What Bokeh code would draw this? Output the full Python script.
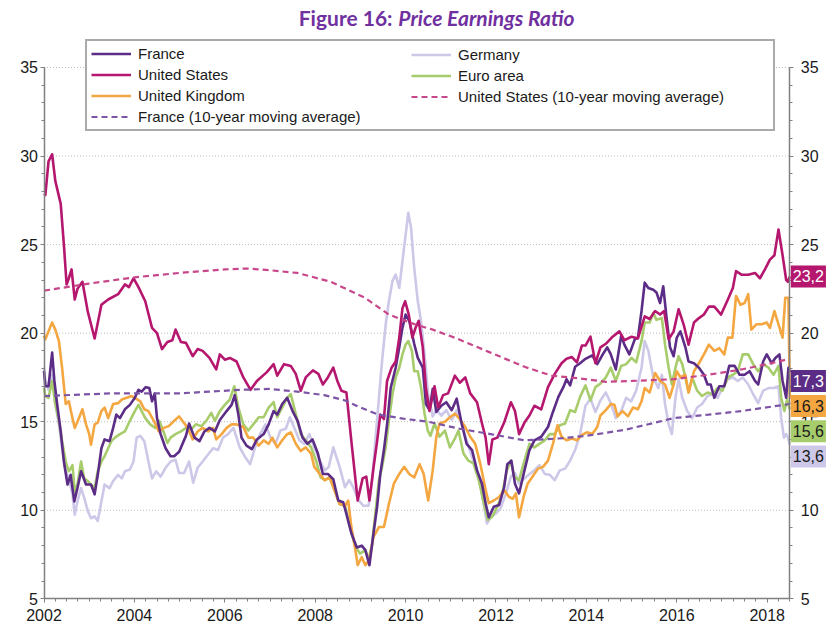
from bokeh.plotting import figure
from bokeh.models import Range1d, LinearAxis, FixedTicker, Legend, LegendItem, Label
from bokeh.embed import file_html
from bokeh.resources import INLINE

# ---------------- data (year, P/E) ----------------
france = [(2002.00, 17.85), (2002.03, 17.0), (2002.10, 17.0), (2002.18, 18.9), (2002.23, 17.3), (2002.29, 16.0),
          (2002.37, 14.45), (2002.44, 12.75), (2002.52, 11.45), (2002.59, 12.0), (2002.67, 10.5), (2002.74, 11.25),
          (2002.82, 12.2), (2002.93, 11.45), (2003.04, 11.45), (2003.12, 10.9), (2003.19, 12.0), (2003.27, 13.5),
          (2003.34, 14.0), (2003.45, 13.9), (2003.53, 14.65), (2003.60, 15.4), (2003.68, 15.2), (2003.79, 15.7),
          (2003.90, 15.95), (2004.01, 16.35), (2004.09, 16.8), (2004.16, 16.7), (2004.25, 16.95), (2004.33, 16.9),
          (2004.39, 16.15), (2004.45, 16.6), (2004.50, 15.2), (2004.58, 14.3), (2004.69, 13.5), (2004.80, 13.05),
          (2004.88, 13.05), (2004.99, 13.3), (2005.14, 14.2), (2005.21, 14.9), (2005.33, 14.1), (2005.44, 13.9),
          (2005.55, 14.45), (2005.66, 14.65), (2005.78, 14.45), (2005.89, 15.1), (2006.04, 15.6), (2006.15, 15.95),
          (2006.22, 16.5), (2006.30, 15.4), (2006.37, 14.1), (2006.48, 13.65), (2006.60, 13.45), (2006.71, 14.0),
          (2006.86, 14.3), (2006.97, 14.85), (2007.08, 15.6), (2007.16, 15.4), (2007.27, 16.0), (2007.38, 16.35),
          (2007.50, 15.6), (2007.61, 15.05), (2007.72, 14.1), (2007.83, 13.75), (2007.94, 14.0), (2008.06, 13.2),
          (2008.17, 12.05), (2008.28, 12.05), (2008.40, 11.75), (2008.51, 10.55), (2008.62, 10.45), (2008.69, 9.8),
          (2008.80, 8.7), (2008.92, 7.9), (2009.03, 8.0), (2009.11, 7.75), (2009.20, 6.9), (2009.29, 8.7),
          (2009.37, 10.2), (2009.44, 12.05), (2009.52, 13.4), (2009.59, 14.85), (2009.67, 16.9), (2009.78, 18.05),
          (2009.86, 19.2), (2009.93, 20.3), (2010.00, 21.05), (2010.08, 20.7), (2010.19, 19.4), (2010.27, 18.6),
          (2010.38, 18.05), (2010.45, 16.0), (2010.53, 15.65), (2010.60, 16.85), (2010.68, 15.55), (2010.79, 15.9),
          (2010.90, 16.1), (2011.02, 15.65), (2011.13, 16.3), (2011.24, 14.9), (2011.35, 13.75), (2011.47, 13.4),
          (2011.58, 12.25), (2011.69, 11.5), (2011.77, 10.4), (2011.84, 9.6), (2011.95, 10.2), (2012.07, 10.3),
          (2012.18, 11.3), (2012.25, 12.6), (2012.34, 12.8), (2012.42, 11.5), (2012.51, 10.95), (2012.63, 12.25),
          (2012.74, 13.4), (2012.85, 13.95), (2013.00, 14.15), (2013.15, 14.7), (2013.26, 15.55), (2013.38, 16.4),
          (2013.49, 16.95), (2013.56, 17.4), (2013.64, 17.05), (2013.75, 18.1), (2013.86, 18.3), (2013.98, 18.55),
          (2014.13, 18.75), (2014.24, 18.25), (2014.35, 18.75), (2014.46, 19.2), (2014.54, 18.8), (2014.65, 17.95),
          (2014.77, 19.85), (2014.84, 19.35), (2014.95, 18.8), (2015.07, 19.65), (2015.14, 19.75), (2015.22, 21.25),
          (2015.29, 22.85), (2015.37, 22.55), (2015.48, 22.45), (2015.55, 22.3), (2015.63, 21.7), (2015.70, 22.65),
          (2015.78, 20.7), (2015.85, 19.2), (2015.93, 18.7), (2016.00, 19.75), (2016.08, 20.1), (2016.19, 19.2),
          (2016.26, 18.4), (2016.38, 18.3), (2016.49, 18.05), (2016.60, 17.65), (2016.68, 17.1), (2016.75, 17.1),
          (2016.83, 16.35), (2016.94, 17.0), (2017.05, 17.0), (2017.16, 18.15), (2017.28, 18.15), (2017.39, 17.65),
          (2017.50, 17.65), (2017.61, 17.85), (2017.73, 17.3), (2017.80, 17.1), (2017.91, 18.4), (2017.99, 18.8),
          (2018.10, 18.3), (2018.18, 18.6), (2018.27, 18.8), (2018.34, 17.3), (2018.42, 16.35), (2018.47, 18.05),
          (2018.50, 17.8)]

united_states = [(2002.00, 27.9), (2002.03, 27.8), (2002.10, 29.7), (2002.18, 30.1), (2002.25, 28.6), (2002.37, 27.3),
                 (2002.44, 25.0), (2002.50, 22.75), (2002.55, 23.1), (2002.61, 23.6), (2002.68, 21.9), (2002.74, 22.5),
                 (2002.85, 22.9), (2002.97, 21.2), (2003.12, 19.7), (2003.27, 21.6), (2003.42, 21.9), (2003.64, 22.2),
                 (2003.79, 22.75), (2003.88, 22.6), (2003.98, 23.1), (2004.09, 22.6), (2004.24, 21.8), (2004.39, 20.3),
                 (2004.50, 20.0), (2004.61, 19.1), (2004.73, 19.5), (2004.84, 19.6), (2004.91, 20.2), (2005.03, 19.5),
                 (2005.14, 19.45), (2005.29, 18.7), (2005.40, 19.1), (2005.51, 19.0), (2005.66, 18.6), (2005.81, 17.95),
                 (2005.89, 18.8), (2006.00, 18.5), (2006.11, 18.6), (2006.26, 18.4), (2006.41, 17.5), (2006.57, 16.8),
                 (2006.71, 17.3), (2006.93, 17.8), (2007.08, 18.25), (2007.16, 17.6), (2007.31, 18.25), (2007.46, 18.15),
                 (2007.57, 17.7), (2007.68, 16.75), (2007.79, 17.5), (2007.95, 17.9), (2008.07, 17.7), (2008.17, 17.1),
                 (2008.28, 17.5), (2008.40, 18.05), (2008.49, 17.3), (2008.58, 16.75), (2008.69, 16.65), (2008.80, 13.9),
                 (2008.94, 10.55), (2009.05, 11.8), (2009.13, 11.9), (2009.20, 10.55), (2009.29, 12.4), (2009.37, 13.9),
                 (2009.44, 15.4), (2009.52, 15.15), (2009.59, 17.3), (2009.69, 18.05), (2009.78, 18.4), (2009.86, 19.75),
                 (2009.93, 21.4), (2009.99, 21.8), (2010.07, 21.05), (2010.15, 19.75), (2010.22, 20.3), (2010.29, 20.7),
                 (2010.38, 19.2), (2010.45, 16.9), (2010.53, 15.6), (2010.64, 17.0), (2010.72, 15.8), (2010.83, 16.5),
                 (2010.94, 16.6), (2011.09, 17.6), (2011.20, 17.2), (2011.32, 17.5), (2011.43, 16.6), (2011.58, 16.1),
                 (2011.69, 14.9), (2011.77, 14.1), (2011.84, 12.6), (2011.92, 14.0), (2012.03, 14.1), (2012.18, 14.95),
                 (2012.33, 16.1), (2012.42, 15.6), (2012.51, 14.3), (2012.63, 14.95), (2012.74, 15.35), (2012.85, 15.9),
                 (2013.00, 15.7), (2013.15, 16.95), (2013.30, 17.7), (2013.45, 18.3), (2013.56, 18.55), (2013.68, 18.65),
                 (2013.79, 18.35), (2013.90, 19.3), (2013.98, 19.3), (2014.09, 19.8), (2014.20, 18.3), (2014.31, 19.2),
                 (2014.43, 19.4), (2014.58, 19.8), (2014.73, 20.1), (2014.84, 19.6), (2015.00, 19.8), (2015.14, 19.7),
                 (2015.29, 20.95), (2015.40, 20.8), (2015.52, 21.25), (2015.63, 21.05), (2015.72, 21.25), (2015.82, 19.65),
                 (2015.93, 20.1), (2016.04, 21.35), (2016.15, 20.5), (2016.26, 19.35), (2016.38, 20.6), (2016.49, 20.85),
                 (2016.60, 21.05), (2016.71, 21.5), (2016.83, 21.5), (2016.98, 21.05), (2017.13, 21.9), (2017.24, 22.55),
                 (2017.31, 23.5), (2017.43, 23.3), (2017.58, 23.3), (2017.73, 23.4), (2017.84, 23.1), (2017.95, 23.6),
                 (2018.06, 24.15), (2018.16, 24.4), (2018.25, 25.85), (2018.34, 24.4), (2018.42, 23.0), (2018.46, 22.9),
                 (2018.50, 23.2)]

united_kingdom = [(2002.00, 19.85), (2002.03, 19.65), (2002.10, 20.1), (2002.18, 20.6), (2002.25, 20.2), (2002.33, 19.55),
                  (2002.40, 18.05), (2002.48, 16.0), (2002.55, 16.15), (2002.63, 15.2), (2002.68, 14.65), (2002.74, 15.0),
                  (2002.85, 15.7), (2002.93, 14.85), (2003.00, 14.3), (2003.04, 13.7), (2003.12, 14.85), (2003.19, 14.95),
                  (2003.27, 15.6), (2003.34, 15.8), (2003.42, 15.2), (2003.53, 16.0), (2003.64, 16.05), (2003.72, 16.25),
                  (2003.83, 16.35), (2003.94, 16.45), (2004.01, 16.35), (2004.13, 16.15), (2004.22, 15.7), (2004.31, 15.6),
                  (2004.43, 15.05), (2004.54, 14.45), (2004.65, 14.65), (2004.76, 14.75), (2004.88, 15.05), (2004.99, 15.3),
                  (2005.06, 15.05), (2005.18, 14.65), (2005.29, 14.0), (2005.40, 14.45), (2005.51, 14.65), (2005.63, 14.45),
                  (2005.74, 14.65), (2005.81, 14.0), (2005.93, 14.3), (2006.04, 14.65), (2006.15, 14.85), (2006.26, 14.85),
                  (2006.41, 14.7), (2006.52, 14.1), (2006.63, 14.1), (2006.75, 13.65), (2006.86, 13.95), (2006.97, 13.75),
                  (2007.05, 14.1), (2007.16, 13.55), (2007.27, 13.95), (2007.38, 14.3), (2007.46, 14.4), (2007.57, 13.75),
                  (2007.68, 13.35), (2007.79, 13.55), (2007.91, 13.2), (2007.98, 12.45), (2008.10, 12.05), (2008.21, 11.7),
                  (2008.32, 11.85), (2008.43, 11.1), (2008.54, 10.35), (2008.66, 10.25), (2008.73, 10.55), (2008.80, 9.05),
                  (2008.88, 7.9), (2008.94, 6.9), (2009.03, 7.35), (2009.11, 6.9), (2009.20, 7.2), (2009.29, 8.5),
                  (2009.41, 9.05), (2009.52, 9.05), (2009.63, 10.35), (2009.74, 11.5), (2009.86, 12.05), (2009.97, 12.45),
                  (2010.08, 12.05), (2010.19, 11.85), (2010.31, 12.6), (2010.40, 12.05), (2010.50, 10.55), (2010.60, 12.25),
                  (2010.68, 14.15), (2010.75, 14.9), (2010.87, 15.0), (2010.98, 15.25), (2011.09, 15.45), (2011.20, 15.15),
                  (2011.32, 14.7), (2011.43, 14.15), (2011.54, 13.75), (2011.65, 12.65), (2011.77, 11.15), (2011.84, 10.4),
                  (2011.95, 10.55), (2012.07, 10.75), (2012.18, 11.15), (2012.29, 10.75), (2012.37, 10.65), (2012.44, 10.95),
                  (2012.51, 9.6), (2012.61, 10.75), (2012.70, 11.5), (2012.81, 11.9), (2012.93, 12.35), (2013.04, 12.45),
                  (2013.15, 12.8), (2013.26, 13.75), (2013.36, 14.8), (2013.45, 14.15), (2013.56, 13.95), (2013.68, 14.05),
                  (2013.79, 13.95), (2013.90, 14.25), (2014.01, 14.4), (2014.13, 14.3), (2014.24, 14.7), (2014.31, 15.35),
                  (2014.43, 15.65), (2014.54, 16.0), (2014.62, 15.95), (2014.69, 15.3), (2014.80, 15.6), (2014.92, 15.3),
                  (2015.03, 15.8), (2015.14, 15.7), (2015.22, 16.15), (2015.29, 16.9), (2015.40, 16.65), (2015.52, 17.75),
                  (2015.63, 17.3), (2015.74, 17.1), (2015.84, 16.35), (2015.93, 17.1), (2016.00, 17.85), (2016.08, 17.5),
                  (2016.19, 17.65), (2016.26, 16.65), (2016.38, 17.85), (2016.49, 18.3), (2016.60, 18.8), (2016.71, 19.35),
                  (2016.83, 19.0), (2016.94, 19.15), (2017.05, 18.8), (2017.13, 19.75), (2017.23, 19.75), (2017.31, 22.1),
                  (2017.41, 21.6), (2017.50, 21.7), (2017.58, 22.2), (2017.65, 20.2), (2017.76, 20.5), (2017.88, 20.5),
                  (2017.99, 20.6), (2018.06, 20.3), (2018.16, 21.25), (2018.25, 20.5), (2018.34, 19.75), (2018.40, 22.0),
                  (2018.47, 22.0), (2018.50, 16.3)]

germany = [(2002.00, 18.05), (2002.03, 17.3), (2002.10, 16.8), (2002.18, 17.65), (2002.25, 16.0), (2002.33, 14.85),
           (2002.40, 13.5), (2002.48, 12.2), (2002.55, 11.8), (2002.63, 10.9), (2002.68, 9.75), (2002.74, 10.5),
           (2002.82, 11.25), (2002.89, 10.7), (2002.97, 9.95), (2003.04, 9.55), (2003.12, 9.65), (2003.19, 9.4),
           (2003.27, 10.5), (2003.34, 11.45), (2003.45, 11.25), (2003.53, 11.65), (2003.64, 12.0), (2003.72, 11.8),
           (2003.79, 12.2), (2003.90, 12.3), (2003.98, 12.75), (2004.05, 14.1), (2004.13, 14.2), (2004.22, 13.9),
           (2004.31, 12.75), (2004.39, 11.8), (2004.48, 12.2), (2004.58, 11.9), (2004.69, 12.4), (2004.80, 12.75),
           (2004.91, 12.85), (2004.99, 12.1), (2005.10, 12.1), (2005.21, 12.75), (2005.30, 11.55), (2005.40, 12.4),
           (2005.51, 12.75), (2005.63, 13.15), (2005.74, 13.5), (2005.85, 13.4), (2005.96, 14.1), (2006.07, 14.3),
           (2006.19, 14.65), (2006.33, 13.55), (2006.45, 13.0), (2006.56, 12.6), (2006.67, 13.55), (2006.78, 14.3),
           (2006.90, 14.85), (2007.01, 14.1), (2007.12, 13.75), (2007.23, 14.5), (2007.35, 14.6), (2007.44, 15.25),
           (2007.53, 14.7), (2007.65, 13.95), (2007.76, 13.75), (2007.87, 14.3), (2007.98, 13.55), (2008.10, 12.8),
           (2008.21, 12.25), (2008.30, 12.45), (2008.40, 13.55), (2008.47, 13.0), (2008.54, 12.45), (2008.66, 11.3),
           (2008.75, 11.7), (2008.84, 11.3), (2008.96, 10.55), (2009.07, 10.25), (2009.18, 10.25), (2009.26, 11.7),
           (2009.33, 13.95), (2009.41, 16.35), (2009.48, 18.45), (2009.56, 20.5), (2009.63, 21.8), (2009.71, 22.95),
           (2009.78, 23.3), (2009.86, 22.55), (2009.93, 24.05), (2010.00, 25.55), (2010.06, 26.8), (2010.12, 25.95),
           (2010.19, 23.7), (2010.27, 21.8), (2010.34, 20.7), (2010.42, 18.8), (2010.50, 16.5), (2010.60, 15.3),
           (2010.68, 15.65), (2010.79, 15.35), (2010.90, 15.65), (2011.02, 15.1), (2011.13, 15.65), (2011.24, 14.9),
           (2011.35, 13.95), (2011.47, 13.0), (2011.58, 12.25), (2011.69, 10.95), (2011.80, 9.25), (2011.88, 9.6),
           (2011.99, 9.8), (2012.10, 10.1), (2012.22, 10.95), (2012.33, 11.9), (2012.42, 12.1), (2012.51, 11.5),
           (2012.63, 11.8), (2012.74, 12.05), (2012.85, 12.25), (2012.96, 12.55), (2013.08, 12.05), (2013.19, 12.0),
           (2013.30, 11.7), (2013.41, 12.25), (2013.53, 12.35), (2013.64, 12.8), (2013.75, 13.4), (2013.86, 14.3),
           (2013.98, 15.9), (2014.09, 16.3), (2014.20, 15.55), (2014.31, 16.2), (2014.43, 16.65), (2014.54, 16.05),
           (2014.65, 15.2), (2014.77, 15.6), (2014.88, 16.35), (2014.99, 16.15), (2015.10, 16.75), (2015.22, 18.05),
           (2015.29, 19.55), (2015.37, 19.0), (2015.48, 17.5), (2015.59, 16.9), (2015.67, 17.65), (2015.74, 16.0),
           (2015.82, 14.85), (2015.89, 14.3), (2015.97, 16.35), (2016.04, 17.4), (2016.12, 16.35), (2016.23, 15.6),
           (2016.34, 15.2), (2016.45, 15.8), (2016.56, 16.0), (2016.68, 16.45), (2016.79, 16.55), (2016.90, 16.35),
           (2017.01, 16.9), (2017.13, 17.4), (2017.24, 17.5), (2017.35, 17.3), (2017.46, 17.5), (2017.58, 17.1),
           (2017.69, 16.55), (2017.80, 16.05), (2017.91, 16.75), (2018.03, 16.9), (2018.14, 16.9), (2018.25, 17.0),
           (2018.31, 15.2), (2018.37, 14.1), (2018.42, 14.3), (2018.46, 14.1), (2018.50, 13.7)]

euro_area = [(2002.00, 16.9), (2002.03, 16.45), (2002.10, 16.35), (2002.18, 17.3), (2002.25, 16.0), (2002.33, 15.05),
             (2002.40, 13.9), (2002.48, 12.75), (2002.55, 12.2), (2002.63, 12.55), (2002.68, 11.05), (2002.74, 11.45),
             (2002.82, 12.75), (2002.89, 11.8), (2002.97, 11.65), (2003.04, 11.45), (2003.12, 11.25), (2003.19, 12.2),
             (2003.27, 12.75), (2003.34, 13.05), (2003.42, 13.5), (2003.49, 13.9), (2003.57, 14.1), (2003.68, 14.3),
             (2003.79, 14.45), (2003.90, 15.05), (2004.01, 15.6), (2004.09, 15.95), (2004.16, 15.6), (2004.24, 15.2),
             (2004.35, 14.85), (2004.46, 14.65), (2004.55, 15.05), (2004.65, 14.4), (2004.73, 13.8), (2004.80, 14.1),
             (2004.91, 14.3), (2005.03, 14.45), (2005.14, 14.65), (2005.25, 14.55), (2005.36, 14.85), (2005.48, 14.75),
             (2005.59, 15.05), (2005.70, 15.5), (2005.78, 15.05), (2005.89, 15.6), (2006.00, 15.95), (2006.11, 16.25),
             (2006.21, 17.0), (2006.30, 15.8), (2006.41, 14.85), (2006.52, 14.5), (2006.63, 14.85), (2006.75, 15.25),
             (2006.86, 15.25), (2006.97, 15.8), (2007.08, 16.1), (2007.16, 15.25), (2007.27, 15.8), (2007.38, 16.35),
             (2007.46, 16.55), (2007.57, 15.45), (2007.68, 14.3), (2007.79, 13.95), (2007.91, 13.55), (2008.02, 12.8),
             (2008.12, 11.85), (2008.21, 11.7), (2008.32, 11.85), (2008.43, 11.1), (2008.54, 10.35), (2008.66, 10.25),
             (2008.77, 9.05), (2008.88, 8.0), (2008.99, 7.55), (2009.11, 7.75), (2009.18, 7.2), (2009.26, 8.1),
             (2009.33, 9.8), (2009.41, 11.7), (2009.48, 12.45), (2009.56, 13.55), (2009.63, 15.05), (2009.71, 16.55),
             (2009.78, 17.5), (2009.86, 18.05), (2009.93, 18.8), (2010.00, 19.35), (2010.06, 19.55), (2010.14, 19.0),
             (2010.19, 17.85), (2010.27, 17.85), (2010.34, 16.95), (2010.42, 15.45), (2010.49, 14.5), (2010.55, 14.2),
             (2010.64, 14.9), (2010.75, 14.15), (2010.87, 14.5), (2010.98, 13.55), (2011.09, 14.05), (2011.17, 14.5),
             (2011.28, 13.2), (2011.39, 12.8), (2011.50, 12.65), (2011.62, 11.7), (2011.73, 10.4), (2011.82, 9.45),
             (2011.92, 9.65), (2012.03, 10.2), (2012.14, 10.95), (2012.24, 12.25), (2012.33, 12.8), (2012.40, 11.9),
             (2012.51, 11.7), (2012.63, 12.8), (2012.74, 13.75), (2012.85, 13.55), (2012.96, 13.75), (2013.08, 13.95),
             (2013.19, 14.3), (2013.30, 14.3), (2013.41, 14.8), (2013.53, 14.9), (2013.64, 15.65), (2013.75, 15.55),
             (2013.86, 16.4), (2013.98, 17.05), (2014.09, 16.2), (2014.20, 16.95), (2014.31, 17.15), (2014.43, 17.5),
             (2014.54, 18.05), (2014.65, 17.3), (2014.77, 18.15), (2014.88, 18.25), (2015.00, 18.6), (2015.10, 18.35),
             (2015.22, 19.55), (2015.29, 20.6), (2015.40, 20.6), (2015.48, 21.15), (2015.55, 20.75), (2015.67, 20.85),
             (2015.74, 19.35), (2015.82, 18.05), (2015.89, 17.1), (2015.97, 18.05), (2016.04, 18.7), (2016.12, 18.25),
             (2016.19, 17.5), (2016.26, 16.65), (2016.34, 17.5), (2016.45, 16.75), (2016.56, 16.45), (2016.68, 16.65),
             (2016.79, 16.55), (2016.90, 16.9), (2017.01, 16.75), (2017.13, 17.5), (2017.24, 17.65), (2017.35, 17.85),
             (2017.46, 18.8), (2017.58, 18.8), (2017.69, 18.25), (2017.80, 17.85), (2017.91, 18.25), (2018.03, 18.05),
             (2018.14, 17.65), (2018.25, 18.15), (2018.31, 16.35), (2018.38, 15.6), (2018.44, 16.25), (2018.50, 15.7)]

us_ma = [(2002.0, 22.4), (2003.0, 22.8), (2004.0, 23.15), (2005.0, 23.4), (2006.0, 23.6), (2006.5, 23.65),
         (2007.0, 23.55), (2007.6, 23.4), (2008.35, 22.9), (2009.1, 22.0), (2009.63, 21.05), (2010.2, 20.5),
         (2010.6, 20.2), (2011.13, 19.7), (2011.88, 18.9), (2012.63, 18.1), (2013.23, 17.6), (2013.83, 17.45),
         (2014.43, 17.25), (2015.0, 17.3), (2015.93, 17.4), (2016.7, 17.65), (2017.43, 17.95), (2018.0, 18.25),
         (2018.5, 18.55)]

france_ma = [(2002.0, 16.45), (2003.5, 16.6), (2005.0, 16.6), (2006.35, 16.8), (2007.0, 16.85), (2007.6, 16.7),
             (2008.2, 16.5), (2008.66, 16.2), (2009.0, 15.8), (2009.4, 15.4), (2010.0, 15.15), (2010.5, 15.0),
             (2011.2, 14.6), (2011.88, 14.3), (2012.63, 13.95), (2013.38, 14.05), (2014.0, 14.2), (2014.87, 14.55),
             (2015.93, 15.2), (2016.7, 15.4), (2017.43, 15.6), (2018.5, 16.0)]

end_values = [23.2, 17.3, 16.3, 15.6, 13.6]          # latest values, labelled at the right edge
end_names = ["United States", "France", "United Kingdom", "Euro area", "Germany"]

x_major = [2002, 2004, 2006, 2008, 2010, 2012, 2014, 2016, 2018]
y_major = [5, 10, 15, 20, 25, 30, 35]
x_bounds = (2002, 2018.5)
y_bounds = (5, 35)

# ---------------- styles ----------------
COL = {"France": "#5c2d86", "United States": "#b5176f", "United Kingdom": "#f4a741",
       "Germany": "#cdc7e8", "Euro area": "#a7cc6c",
       "US MA": "#c8468a", "FR MA": "#7d55a6"}
END_TEXT = {"United States": "white", "France": "white", "United Kingdom": "#1a1a1a",
            "Euro area": "#1a1a1a", "Germany": "#1a1a1a"}
FONT = "'Liberation Sans Narrow', 'Arial Narrow', 'Liberation Sans', sans-serif"

# the frame covers the whole canvas; the axes are pinned at the chart bounds
p = figure(width=832, height=628, x_range=Range1d(2001.0376, 2019.4447), y_range=Range1d(3.323, 38.783),
           x_axis_location=None, y_axis_location=None,
           output_backend="svg", toolbar_location=None, min_border=0,
           min_border_left=0, min_border_right=0, min_border_top=0, min_border_bottom=0,
           outline_line_color=None, background_fill_color="white", border_fill_color="white")
p.xgrid.visible = False
p.ygrid.visible = False

# dotted horizontal grid between the two y axes
grid_levels = [v for v in y_major if v != y_bounds[0]]
p.segment(x0=[x_bounds[0]] * len(grid_levels), x1=[x_bounds[1]] * len(grid_levels),
          y0=grid_levels, y1=grid_levels, line_color="#bdbdbd", line_dash="1 2", line_width=1, level="underlay")

def xs(s): return [a for a, b in s]
def ys(s): return [b for a, b in s]

r_de = p.line(xs(germany), ys(germany), line_color=COL["Germany"], line_width=2.6, line_join="round")
r_ea = p.line(xs(euro_area), ys(euro_area), line_color=COL["Euro area"], line_width=2.6, line_join="round")
r_uk = p.line(xs(united_kingdom), ys(united_kingdom), line_color=COL["United Kingdom"], line_width=2.6, line_join="round")
r_fr = p.line(xs(france), ys(france), line_color=COL["France"], line_width=2.6, line_join="round")
r_us = p.line(xs(united_states), ys(united_states), line_color=COL["United States"], line_width=2.6, line_join="round")
r_usma = p.line(xs(us_ma), ys(us_ma), line_color=COL["US MA"], line_width=2.2, line_dash="6 4")
r_frma = p.line(xs(france_ma), ys(france_ma), line_color=COL["FR MA"], line_width=2.2, line_dash="6 4")

# ---------------- axes ----------------
x_minor = [2002 + 0.25 * i for i in range(67)]
y_minor = list(range(5, 36))

def style_axis(ax, standoff):
    ax.axis_line_color = "#808080"
    ax.axis_line_width = 1.5
    ax.major_tick_line_color = "#808080"
    ax.minor_tick_line_color = "#808080"
    ax.major_tick_in = 0
    ax.major_tick_out = 4
    ax.minor_tick_in = 0
    ax.minor_tick_out = 3
    ax.major_label_text_font = FONT
    ax.major_label_text_font_size = "16px"
    ax.major_label_text_color = "#1a1a1a"
    ax.major_label_standoff = standoff

x_axis = LinearAxis(ticker=FixedTicker(ticks=x_major, minor_ticks=x_minor), bounds=x_bounds,
                    fixed_location=y_bounds[0])
style_axis(x_axis, 6)
p.add_layout(x_axis, "below")
left_axis = LinearAxis(ticker=FixedTicker(ticks=y_major, minor_ticks=y_minor), bounds=y_bounds,
                       fixed_location=x_bounds[0])
style_axis(left_axis, 2)
p.add_layout(left_axis, "left")
right_axis = LinearAxis(ticker=FixedTicker(ticks=y_major, minor_ticks=y_minor), bounds=y_bounds,
                        fixed_location=x_bounds[1])
style_axis(right_axis, 7)
p.add_layout(right_axis, "right")

# ---------------- legend (two columns inside one framed box) ----------------
leg_common = dict(orientation="vertical", glyph_width=40, glyph_height=17, label_height=17,
                  label_standoff=7, spacing=4, padding=4, margin=0,
                  label_text_font=FONT, label_text_font_size="15px", label_text_color="#1a1a1a")
legend_a = Legend(items=[LegendItem(label="France", renderers=[r_fr]),
                         LegendItem(label="United States", renderers=[r_us]),
                         LegendItem(label="United Kingdom", renderers=[r_uk]),
                         LegendItem(label="France (10-year moving average)", renderers=[r_frma])],
                  location=(85, 497), label_width=631,
                  border_line_color="#555555", border_line_width=2, background_fill_color="white",
                  background_fill_alpha=1.0, **leg_common)
legend_b = Legend(items=[LegendItem(label="Germany", renderers=[r_de]),
                         LegendItem(label="Euro area", renderers=[r_ea]),
                         LegendItem(label="United States (10-year moving average)", renderers=[r_usma])],
                  location=(411, 523), border_line_color=None, background_fill_alpha=0.0, **leg_common)
p.add_layout(legend_a, "center")
p.add_layout(legend_b, "center")

# ---------------- end-value labels on the right edge ----------------
box_h = 1.42
last = None
for name, v in sorted(zip(end_names, end_values), key=lambda t: -t[1]):
    ypos = v if last is None else min(v, last - box_h)
    last = ypos
    p.add_layout(Label(x=x_bounds[1], y=ypos, x_offset=1, text=f"{v:.1f}".replace(".", ","),
                       text_align="left", text_baseline="middle",
                       text_font=FONT, text_font_size="16px", text_color=END_TEXT[name],
                       background_fill_color=COL[name], background_fill_alpha=1.0, padding=(2, 5)))

# ---------------- title ----------------
p.add_layout(Label(x=2009.71, y=37.82, text="Figure 16:", text_align="right", text_baseline="middle",
                   text_font="Lato", text_font_style="bold", text_font_size="21px", text_color="#7030a0"))
p.add_layout(Label(x=2009.84, y=37.82, text="Price Earnings Ratio", text_align="left", text_baseline="middle",
                   text_font="Lato", text_font_style="bold italic", text_font_size="21px",
                   text_color="#7030a0"))

open("out.html", "w").write(file_html(p, INLINE))
